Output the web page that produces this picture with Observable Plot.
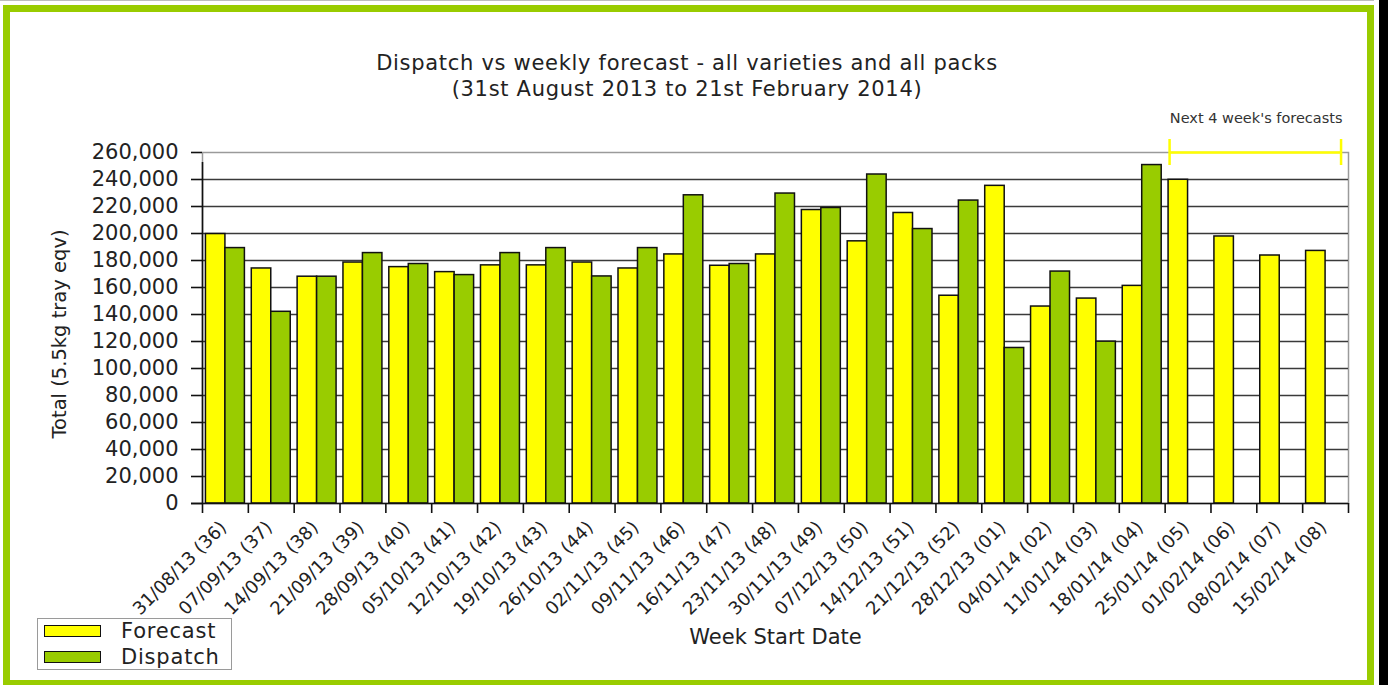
<!DOCTYPE html>
<html>
<head>
<meta charset="utf-8">
<script src="https://cdn.jsdelivr.net/npm/d3@7"></script>
<script src="https://cdn.jsdelivr.net/npm/@observablehq/plot@0.6"></script>
<style>
  html, body { margin: 0; padding: 0; background: #fff; }
  body { width: 1388px; height: 685px; position: relative; overflow: hidden; font-family: "DejaVu Sans", sans-serif; color: #222; }
  #topline { position: absolute; left: 0; top: 0; width: 1374px; height: 1px; background: #bdbdbd; }
  #box { position: absolute; left: 3px; top: 5px; width: 1371px; height: 682px; box-sizing: border-box; border: 7px solid #99cc00; }
  #strip { position: absolute; left: 1379px; top: 0; width: 9px; height: 685px; background: #000; }
  #title { position: absolute; left: 187px; width: 1000px; top: 50px; text-align: center; font-size: 21px; line-height: 26px; letter-spacing: 0.7px; color: #222; }
  #chart { position: absolute; left: 0; top: 100px; }
  #legend { position: absolute; left: 37px; top: 618px; width: 195px; height: 52px; box-sizing: border-box; border: 1px solid #9a9a9a; background: #fff; }
  .lg { position: absolute; left: 6px; width: 57px; height: 12px; box-sizing: border-box; border: 1.5px solid #111; }
  .lt { position: absolute; left: 83px; font-size: 21px; line-height: 24px; letter-spacing: 0.8px; color: #222; }
</style>
</head>
<body>
<div id="topline"></div>
<div id="box"></div>
<div id="strip"></div>
<div id="title">Dispatch vs weekly forecast - all varieties and all packs<br>(31st August 2013 to 21st February 2014)</div>
<div id="chart"></div>
<div id="legend">
  <div class="lg" style="top:6px;background:#ffff00"></div><div class="lt" style="top:0px">Forecast</div>
  <div class="lg" style="top:32px;background:#99cc00"></div><div class="lt" style="top:26px">Dispatch</div>
</div>
<script>
const weeks = ["31/08/13 (36)", "07/09/13 (37)", "14/09/13 (38)", "21/09/13 (39)", "28/09/13 (40)",
  "05/10/13 (41)", "12/10/13 (42)", "19/10/13 (43)", "26/10/13 (44)", "02/11/13 (45)",
  "09/11/13 (46)", "16/11/13 (47)", "23/11/13 (48)", "30/11/13 (49)", "07/12/13 (50)",
  "14/12/13 (51)", "21/12/13 (52)", "28/12/13 (01)", "04/01/14 (02)", "11/01/14 (03)",
  "18/01/14 (04)", "25/01/14 (05)", "01/02/14 (06)", "08/02/14 (07)", "15/02/14 (08)"];
const forecast = [199600, 174100, 168000, 178500, 175100, 171400, 176400, 176400, 178500, 174100,
  184500, 176100, 184500, 217400, 194200, 215200, 153900, 235300, 145900, 151800,
  161200, 239800, 197800, 183700, 187100];
const dispatch = [189200, 142000, 168000, 185500, 177400, 169200, 185500, 189200, 168200, 189200,
  228300, 177400, 229600, 218900, 243700, 203300, 224400, 115200, 171800, 119900,
  250700, null, null, null, null];
const yTicks = [0, 20000, 40000, 60000, 80000, 100000, 120000, 140000, 160000, 180000, 200000, 220000, 240000, 260000];
const forecastWeeks = ["25/01/14 (05)", "15/02/14 (08)"];
const annotation = "Next 4 week's forecasts";
const yLabel = "Total (5.5kg tray eqv)";
const xLabel = "Week Start Date";

const rows = weeks.map((w, i) => ({week: w, forecast: forecast[i], dispatch: dispatch[i]}));
const bracket = [{y: 260000, from: forecastWeeks[0], to: forecastWeeks[1]}];

const W = 1388, H = 560;
const mL = 202, mR = 40, mT = 52, mB = 157;
const pInner = 0.15, pOuter = 0.075;
const step = (W - mL - mR) / (weeks.length - pInner + 2 * pOuter);
const bw = step * (1 - pInner);
const fontFamily = "DejaVu Sans";

const chart = Plot.plot({
  width: W, height: H,
  marginLeft: mL, marginRight: mR, marginTop: mT, marginBottom: mB,
  style: {fontFamily, color: "#222", background: "transparent", overflow: "visible"},
  x: {type: "band", domain: weeks, paddingInner: pInner, paddingOuter: pOuter, round: false, label: null},
  y: {domain: [0, 260000], label: null},
  marks: [
    Plot.frame({stroke: "#9a9a9a", strokeWidth: 1.5}),
    Plot.ruleY(yTicks.slice(1, -1), {stroke: "#3a3a3a", strokeWidth: 1.6}),
    Plot.barY(rows, {x: "week", y: "forecast", fill: "#ffff00", stroke: "#111", strokeWidth: 1.5, insetRight: bw / 2, insetLeft: 0}),
    Plot.barY(rows.filter(d => d.dispatch != null), {x: "week", y: "dispatch", fill: "#99cc00", stroke: "#111", strokeWidth: 1.5, insetLeft: bw / 2, insetRight: 0}),
    // y axis line and bottom axis line
    Plot.ruleX([weeks[0]], {dx: -step / 2, y1: 0, y2: 260000, insetBottom: -10, stroke: "#111", strokeWidth: 1.6}),
    Plot.ruleY([0], {insetLeft: -11, stroke: "#111", strokeWidth: 1.6}),
    Plot.axisY({ticks: yTicks, tickSize: 11, tickPadding: 13, tickFormat: d3.format(","), fontSize: 21, stroke: "#111", strokeWidth: 1.6, fill: "#222"}),
    // x tick marks at group boundaries
    Plot.axisX({tickSize: 10, tickFormat: () => "", dx: -step / 2, stroke: "#111", strokeWidth: 1.6}),
    Plot.axisX([weeks[weeks.length - 1]], {tickSize: 10, tickFormat: () => "", dx: step / 2, stroke: "#111", strokeWidth: 1.6}),
    // x labels
    Plot.axisX({tickSize: 0, tickPadding: 21, tickRotate: -45, dx: -2, fontSize: 18, fill: "#222"}),
    Plot.text([yLabel], {frameAnchor: "left", textAnchor: "middle", lineAnchor: "middle", rotate: -90, dx: -143, dy: 6, fontSize: 19.5, fill: "#222"}),
    Plot.text([xLabel], {frameAnchor: "bottom", textAnchor: "middle", lineAnchor: "middle", dy: 134, fontSize: 21, fill: "#222"}),
    // next 4 weeks bracket
    Plot.ruleY(bracket, {y: "y", x1: "from", x2: "to", insetLeft: 1, insetRight: 4, stroke: "#ffff00", strokeWidth: 2.5}),
    Plot.ruleX([forecastWeeks[0]], {dx: -bw / 2 + 1, y1: 260000, y2: 260000, insetTop: 13, insetBottom: 13, stroke: "#ffff00", strokeWidth: 2.5}),
    Plot.ruleX([forecastWeeks[1]], {dx: bw / 2 - 4, y1: 260000, y2: 260000, insetTop: 13, insetBottom: 13, stroke: "#ffff00", strokeWidth: 2.5}),
    Plot.text([annotation], {frameAnchor: "top-right", textAnchor: "end", lineAnchor: "middle", dx: -6, dy: -34, fontSize: 14.5, fill: "#333"})
  ]
});
document.getElementById("chart").appendChild(chart);
</script>
</body>
</html>
